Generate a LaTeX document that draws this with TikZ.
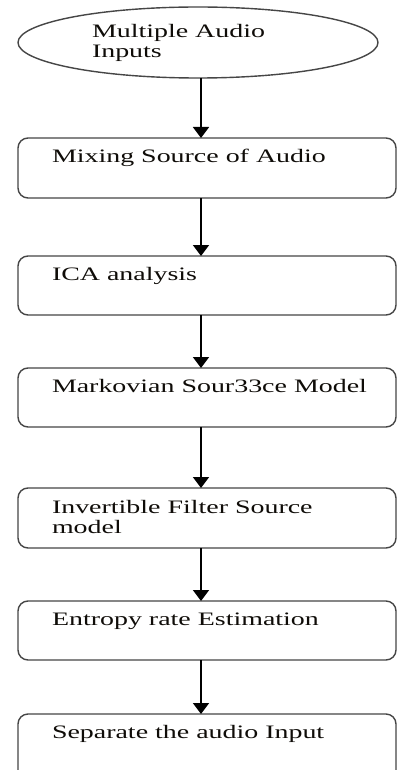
\documentclass[tikz,border=0pt]{standalone}
\usepackage{fontspec}
\setmainfont{Liberation Serif}
\usetikzlibrary{arrows.meta,shapes.geometric}
\definecolor{edge}{RGB}{70,70,70}
\definecolor{ink}{RGB}{15,12,8}
% horizontally widened text line
\newcommand{\wideline}[1]{\scalebox{1.47}[1]{#1}}
\tikzset{
  stepbox/.style={draw=edge, line width=1.4pt, rounded corners=10pt,
    rectangle, inner sep=0pt, outer sep=0pt, anchor=north west,
    minimum width=378pt, minimum height=60pt},
  startnode/.style={draw=edge, line width=1.4pt, ellipse, inner sep=0pt,
    outer sep=0pt, minimum width=360pt, minimum height=71pt},
  lbl/.style={inner sep=0pt, outer sep=0pt, anchor=base west, text=ink,
    font=\fontsize{19pt}{19.5pt}\selectfont, align=left},
  arr/.style={draw=black, line width=1.8pt,
    -{Triangle[width=16pt,length=11pt]}},
}
\begin{document}
\begin{tikzpicture}[x=1pt,y=-1pt]
  \clip (0,0) rectangle (399,770);
  \fill[white] (0,0) rectangle (399,770);
  \coordinate (ax) at (201,0);

  % start ellipse (two-line labels are placed by their last baseline)
  \node[startnode] (e) at (198,42.5) {};
  \node[lbl] (te) at (92,57.5) {\wideline{Multiple Audio}\\\wideline{Inputs}};

  % process steps
  \node[stepbox] (b1) at (18,138) {};
  \node[lbl] (t1) at (52,163) {\wideline{Mixing Source of Audio}};

  \node[stepbox, minimum height=59pt] (b2) at (18,256) {};
  \node[lbl] (t2) at (52,280) {\wideline{ICA analysis}};

  \node[stepbox, minimum height=59pt] (b3) at (18,368) {};
  \node[lbl] (t3) at (52,392) {\wideline{Markovian Sour33ce Model}};

  \node[stepbox] (b4) at (18,488) {};
  \node[lbl] (t4) at (52,533) {\wideline{Invertible Filter Source}\\\wideline{model}};

  \node[stepbox, minimum height=59pt] (b5) at (18,601) {};
  \node[lbl] (t5) at (52,625) {\wideline{Entropy rate Estimation}};

  \node[stepbox, minimum height=90pt] (b6) at (18,714) {};
  \node[lbl] (t6) at (52,738) {\wideline{Separate the audio Input}};

  % connectors
  \draw[arr] (e.south -| ax) -- (b1.north -| ax);
  \draw[arr] (b1.south -| ax) -- (b2.north -| ax);
  \draw[arr] (b2.south -| ax) -- (b3.north -| ax);
  \draw[arr] (b3.south -| ax) -- (b4.north -| ax);
  \draw[arr] (b4.south -| ax) -- (b5.north -| ax);
  \draw[arr] (b5.south -| ax) -- (b6.north -| ax);
\end{tikzpicture}
\end{document}
